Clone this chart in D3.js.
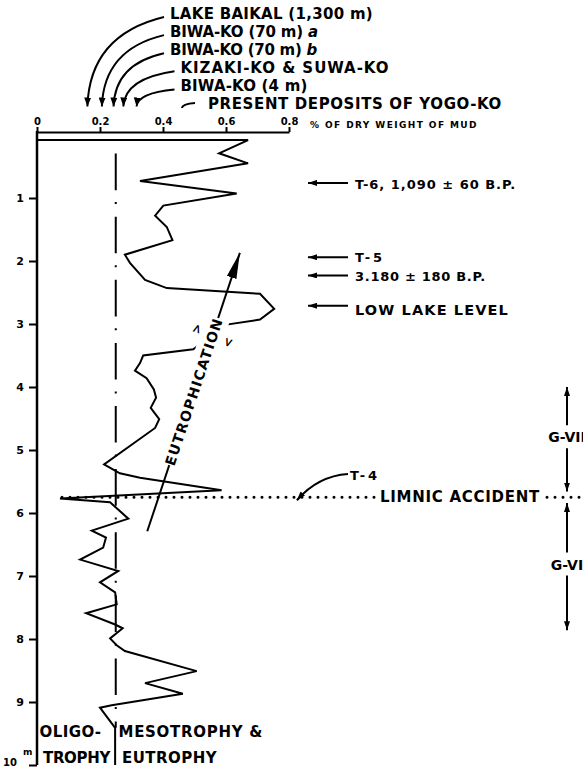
<!DOCTYPE html>
<html>
<head>
<meta charset="utf-8">
<script src="https://cdn.jsdelivr.net/npm/d3@7"></script>
<style>
  body { margin: 0; background: #fff; }
  svg { display: block; }
  text { font-family: "DejaVu Sans", "Liberation Sans", Arial, sans-serif; font-weight: bold; fill: #000; }
</style>
</head>
<body>
<svg id="chart" width="583" height="771"></svg>
<script>
// core profile: % of dry weight of mud vs depth (m)
const depths = [0.08, 0.08, 0.29, 0.45, 0.73, 0.93, 1.12, 1.28, 1.46, 1.67,
                1.90, 2.03, 2.30, 2.43, 2.52, 2.76, 2.93, 3.01, 3.40, 3.50,
                3.62, 3.74, 3.86, 4.04, 4.17, 4.33, 4.51, 4.65, 5.23, 5.37,
                5.44, 5.64, 5.77, 5.83, 6.09, 6.28, 6.39, 6.55, 6.74, 6.92,
                7.10, 7.26, 7.45, 7.59, 7.77, 7.83, 7.99, 8.10, 8.19, 8.51,
                8.70, 8.87, 9.05, 9.09, 9.41, 10.0];
const values = [0, 0.670, 0.578, 0.670, 0.327, 0.634, 0.401, 0.375, 0.412, 0.430,
                0.279, 0.295, 0.343, 0.412, 0.708, 0.753, 0.708, 0.602, 0.496, 0.337,
                0.327, 0.311, 0.348, 0.371, 0.378, 0.361, 0.388, 0.375, 0.213, 0.263,
                0.327, 0.586, 0.073, 0.232, 0.290, 0.174, 0.219, 0.210, 0.137, 0.258,
                0.200, 0.248, 0.253, 0.156, 0.248, 0.272, 0.232, 0.253, 0.279, 0.507,
                0.343, 0.463, 0.237, 0.200, 0.248, 0.248];

const xTicks = [0, 0.2, 0.4, 0.6, 0.8];
const yTicks = [1, 2, 3, 4, 5, 6, 7, 8, 9, 10];

// reference lakes shown on the top scale
const refLakes = ["LAKE BAIKAL (1,300 m)", "BIWA-KO (70 m) a", "BIWA-KO (70 m) b",
                  "KIZAKI-KO & SUWA-KO", "BIWA-KO (4 m)", "PRESENT DEPOSITS OF YOGO-KO"];
const refValues = [0.16, 0.206, 0.243, 0.274, 0.316, 0.46];

// events marked on the right
const eventLabels = ["T-6, 1,090 \u00b1 60 B.P.", "T-5", "3.180 \u00b1 180 B.P.", "LOW LAKE LEVEL"];
const eventDepths = [0.76, 1.94, 2.23, 2.71];

const accidentDepth = 5.75;
const thresholdValue = 0.25;

const zoneLabels = ["G-VII", "G-VI"];
const zoneTops = [4.0, 5.84];
const zoneBottoms = [5.66, 7.86];

const trendFrom = [0.35, 6.29];
const trendTo = [0.644, 1.87];

const svg = d3.select("#chart");
const x = d3.scaleLinear().domain([0, 0.8]).range([37, 289]);
const y = d3.scaleLinear().domain([0, 10]).range([135, 765]);
const axisTopY = 132;

// stretch text to a target width with letter spacing
function fit(t, w) {
  const n = t.text().length;
  const cur = t.node().getComputedTextLength();
  t.attr("letter-spacing", ((w - cur) / n).toFixed(2));
}

const defs = svg.append("defs");
function marker(id, len, half) {
  defs.append("marker").attr("id", id)
    .attr("viewBox", `0 ${-half} ${len} ${half * 2}`)
    .attr("refX", len).attr("refY", 0)
    .attr("markerWidth", len).attr("markerHeight", half * 2)
    .attr("markerUnits", "userSpaceOnUse").attr("orient", "auto")
    .append("path").attr("d", `M0,${-half}L${len},0L0,${half}Z`).attr("fill", "#000");
}
marker("head", 9, 3.5);
marker("small", 9, 3);
marker("big", 26, 5);

// top axis
const gx = svg.append("g").attr("transform", `translate(0,${axisTopY})`)
  .call(d3.axisTop(x).tickValues(xTicks).tickSize(5).tickSizeOuter(0).tickPadding(2)
    .tickFormat(d => d === 0 ? "0" : d3.format(".1f")(d)));
gx.select(".domain").attr("stroke-width", 2);
gx.selectAll(".tick line").attr("stroke-width", 2);
gx.selectAll(".tick text").attr("font-size", 10).attr("font-family", null);

const unit = svg.append("text").attr("x", 310).attr("y", 128).attr("font-size", 9)
  .text("% OF DRY WEIGHT OF MUD");
fit(unit, 168);

// left axis
const gy = svg.append("g").attr("transform", `translate(${x(0)},0)`)
  .call(d3.axisLeft(y).tickValues(yTicks).tickSize(8).tickSizeOuter(0).tickPadding(5)
    .tickFormat(d => d === 10 ? "" : d));
gy.select(".domain").remove();
gy.selectAll(".tick line").attr("stroke-width", 2);
gy.selectAll(".tick text").attr("font-size", 11).attr("font-family", null);
svg.append("line").attr("x1", x(0)).attr("x2", x(0)).attr("y1", axisTopY - 1).attr("y2", y(10))
  .attr("stroke", "#000").attr("stroke-width", 2.5);
svg.append("text").attr("x", 17).attr("y", y(10) + 1).attr("text-anchor", "end")
  .attr("font-size", 10).text("10");
svg.append("text").attr("x", 23).attr("y", y(10) - 10).attr("font-size", 9).text("m");

// trophic threshold (dash-dot)
svg.append("line").attr("x1", x(thresholdValue)).attr("x2", x(thresholdValue))
  .attr("y1", 153.6).attr("y2", y(9.41))
  .attr("stroke", "#000").attr("stroke-width", 2)
  .attr("stroke-dasharray", "36.6,11.9,2,12.6");

// profile curve
const pts = values.map((v, i) => ({ v: v, d: depths[i] }));
const line = d3.line().x(d => x(d.v)).y(d => y(d.d));
svg.append("path").datum(pts).attr("d", line)
  .attr("fill", "none").attr("stroke", "#000").attr("stroke-width", 2)
  .attr("stroke-linejoin", "miter");

// reference lake arrows
refLakes.forEach((name, i) => {
  const tx = i < 3 ? 170 : (i < 5 ? 180.5 : 208);
  const ty = 18.5 + i * 18.1;
  const t = svg.append("text").attr("x", tx).attr("y", ty).attr("font-size", 15);
  const m = name.match(/^(.*\)) ([ab])$/);
  if (m) {
    t.append("tspan").text(m[1] + " ");
    t.append("tspan").attr("font-style", "italic").text(m[2]);
  } else {
    t.text(name);
  }
  fit(t, [203, 148, 147, 209, 127, 294][i]);
  const last = i === refLakes.length - 1;
  const sx = last ? tx - 13 : tx - 6;
  const sy = last ? ty - 6 : ty - 1.5;
  const ex = x(refValues[i]), ey = last ? 108 : 106.5;
  const cx = ex + 0.03 * (sx - ex), cy = sy + 0.2 * (ey - sy);
  svg.append("path").attr("d", `M${sx},${sy}Q${cx},${cy} ${ex},${ey}`)
    .attr("fill", "none").attr("stroke", "#000").attr("stroke-width", 2)
    .attr("marker-end", last ? null : "url(#head)");
});

// event arrows on the right
const eventDy = [6, 5, 6, 9];
const eventSize = [13, 13, 13, 14.5];
const eventW = [161, 30, 131, 154];
eventLabels.forEach((s, i) => {
  const yy = y(eventDepths[i]);
  svg.append("line").attr("x1", 348).attr("x2", 308).attr("y1", yy).attr("y2", yy)
    .attr("stroke", "#000").attr("stroke-width", 2).attr("marker-end", "url(#small)");
  const t = svg.append("text").attr("x", 355).attr("y", yy + eventDy[i])
    .attr("font-size", eventSize[i]).text(s);
  fit(t, eventW[i]);
});

// eutrophication arrow
const p0 = [x(trendFrom[0]), y(trendFrom[1])];
const p1 = [x(trendTo[0]), y(trendTo[1])];
svg.append("line").attr("x1", p0[0]).attr("y1", p0[1]).attr("x2", p1[0]).attr("y2", p1[1])
  .attr("stroke", "#000").attr("stroke-width", 2).attr("marker-end", "url(#big)");
const ang = Math.atan2(p1[1] - p0[1], p1[0] - p0[0]) * 180 / Math.PI;
const mid = [(p0[0] + p1[0]) / 2, (p0[1] + p1[1]) / 2];
const eg = svg.append("g").attr("transform", `translate(${mid[0]},${mid[1]}) rotate(${ang})`);
eg.append("rect").attr("x", -77).attr("y", -12).attr("width", 155).attr("height", 24).attr("fill", "#fff");
const et = eg.append("text").attr("x", -77).attr("y", 5.2).attr("font-size", 14).text("EUTROPHICATION");
fit(et, 155);
eg.append("text").attr("x", 61).attr("y", -13).attr("text-anchor", "middle").attr("font-size", 12).text(">");
eg.append("text").attr("x", 58).attr("y", 21).attr("text-anchor", "middle").attr("font-size", 12).text("<");

// limnic accident
const ya = y(accidentDepth);
[[62, 377], [547, 583]].forEach(r => {
  svg.append("line").attr("x1", r[0]).attr("x2", r[1]).attr("y1", ya).attr("y2", ya)
    .attr("stroke", "#000").attr("stroke-width", 3)
    .attr("stroke-linecap", "round").attr("stroke-dasharray", "0,8");
});
const la = svg.append("text").attr("x", 380).attr("y", ya + 5).attr("font-size", 15).text("LIMNIC ACCIDENT");
fit(la, 160);
const t4 = svg.append("text").attr("x", 350).attr("y", 480).attr("font-size", 13).text("T-4");
fit(t4, 30);
svg.append("path").attr("d", `M348,474Q318,476 ${x(0.825)},${ya + 3}`)
  .attr("fill", "none").attr("stroke", "#000").attr("stroke-width", 2)
  .attr("marker-end", "url(#small)");

// pollen zones
zoneLabels.forEach((s, i) => {
  const y0 = y(zoneTops[i]), y1 = y(zoneBottoms[i]), ym = (y0 + y1) / 2;
  svg.append("line").attr("x1", 567).attr("x2", 567).attr("y1", ym - 14).attr("y2", y0)
    .attr("stroke", "#000").attr("stroke-width", 2).attr("marker-end", "url(#small)");
  svg.append("line").attr("x1", 567).attr("x2", 567).attr("y1", ym + 9).attr("y2", y1)
    .attr("stroke", "#000").attr("stroke-width", 2).attr("marker-end", "url(#small)");
  svg.append("text").attr("x", 567).attr("y", ym + 3).attr("text-anchor", "middle")
    .attr("font-size", 14).text(s);
});

// trophic labels at the bottom
[["OLIGO-", 39.5, 737, 62], ["TROPHY", 43, 763, 67],
 ["MESOTROPHY &", 118.5, 737, 144.5], ["EUTROPHY", 122, 763, 95]].forEach(l => {
  const t = svg.append("text").attr("x", l[1]).attr("y", l[2]).attr("font-size", 15).text(l[0]);
  fit(t, l[3]);
});
</script>
</body>
</html>
